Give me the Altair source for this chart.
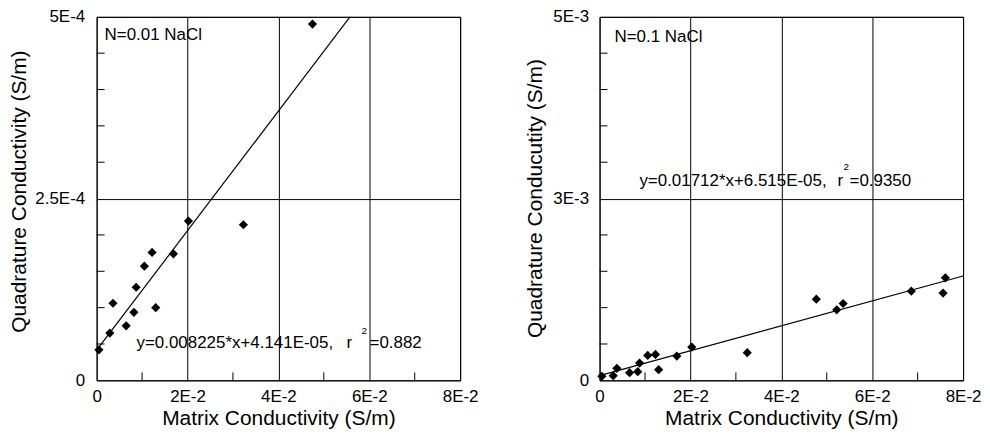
import altair as alt
import pandas as pd

FONT = "Liberation Sans"

# ---------------- data ----------------
# Panel A : N=0.01 NaCl
a_x = [0.0005, 0.0029, 0.0036, 0.0065, 0.0082, 0.0087, 0.0105, 0.0122, 0.0130,
       0.0169, 0.0202, 0.0323, 0.0475]
a_y = [4.2e-5, 6.5e-5, 1.06e-4, 7.5e-5, 9.35e-5, 1.28e-4, 1.57e-4, 1.76e-4, 1.0e-4,
       1.74e-4, 2.19e-4, 2.14e-4, 4.9e-4]
a_slope, a_icpt = 0.008225, 4.141e-05

# Panel B : N=0.1 NaCl
b_x = [0.0005, 0.0030, 0.0038, 0.0066, 0.0084, 0.0088, 0.0106, 0.0123, 0.0130,
       0.0170, 0.0203, 0.0325, 0.0477, 0.0522, 0.0536, 0.0686, 0.0756, 0.0761]
b_y = [5.5e-5, 6.4e-5, 1.65e-4, 1.06e-4, 1.19e-4, 2.38e-4, 3.43e-4, 3.57e-4, 1.47e-4,
       3.34e-4, 4.57e-4, 3.8e-4, 1.116e-3, 9.7e-4, 1.057e-3, 1.226e-3, 1.2e-3, 1.41e-3]
b_slope, b_icpt = 0.01712, 6.515e-05

# axes
x_ticks = [0, 0.02, 0.04, 0.06, 0.08]
x_labels = ["0", "2E-2", "4E-2", "6E-2", "8E-2"]
x_minor = [0.01, 0.03, 0.05, 0.07]
x_title = "Matrix Conductivity (S/m)"

a_yticks = [0, 2.5e-4, 5e-4]
a_ylabels = ["0", "2.5E-4", "5E-4"]
a_yminor = [0.5e-4, 1e-4, 1.5e-4, 2e-4, 3e-4, 3.5e-4, 4e-4, 4.5e-4]
a_ytitle = "Quadrature Conductivity (S/m)"

b_yticks = [0, 2.5e-3, 5e-3]
b_ylabels = ["0", "3E-3", "5E-3"]
b_yminor = [0.5e-3, 1e-3, 1.5e-3, 2e-3, 3e-3, 3.5e-3, 4e-3, 4.5e-3]
b_ytitle = "Quadrature Conducutity (S/m)"

a_note, b_note = "N=0.01 NaCl", "N=0.1 NaCl"
a_eq, a_r, a_sup, a_val = "y=0.008225*x+4.141E-05,", "r", "2", "=0.882"
b_eq, b_r, b_sup, b_val = "y=0.01712*x+6.515E-05,", "r", "2", "=0.9350"

W, H = 365, 365


def label_expr(vals, labels, tol):
    expr = "''"
    for v, l in reversed(list(zip(vals, labels))):
        expr = f"abs(datum.value - {v}) < {tol} ? '{l}' : ({expr})"
    return expr


def txt(s, x, y, size=17):
    return alt.Chart(pd.DataFrame({"t": [s]})).mark_text(
        align="left", baseline="alphabetic", font=FONT, fontSize=size, color="black"
    ).encode(text="t:N", x=alt.value(x), y=alt.value(y))


def panel(xs, ys, slope, icpt, ymax, yticks, ylabels, yminor, ytitle, ylp, ytp, ty,
          note, note_pos, eq, eq_pos, r, r_x, sup, sup_pos, val, val_x):
    xscale = alt.Scale(domain=[0, 0.08], nice=False, zero=False)
    yscale = alt.Scale(domain=[0, ymax], nice=False, zero=False)
    xaxis = alt.Axis(values=x_ticks, labelExpr=label_expr(x_ticks, x_labels, 1e-6),
                     grid=True, gridColor="black", gridOpacity=1, gridWidth=1,
                     ticks=False, domain=False, labelFlush=False, labelOverlap=False,
                     labelPadding=8, titlePadding=3, title=x_title)
    yaxis = alt.Axis(values=yticks, labelExpr=label_expr(yticks, ylabels, ymax * 1e-4),
                     grid=True, gridColor="black", gridOpacity=1, gridWidth=1,
                     ticks=False, domain=False, labelFlush=False, labelOverlap=False,
                     labelPadding=ylp, titlePadding=ytp, titleY=ty, title=ytitle)
    X = lambda f: alt.X(f, scale=xscale, axis=xaxis, title=x_title)
    Y = lambda f: alt.Y(f, scale=yscale, axis=yaxis, title=ytitle)

    pts = alt.Chart(pd.DataFrame({"x": xs, "y": ys})).mark_point(
        shape="diamond", filled=True, color="black", size=85, opacity=1
    ).encode(x=X("x:Q"), y=Y("y:Q"))

    lx = [0.0, 0.08]
    line = alt.Chart(pd.DataFrame({"x": lx, "y": [slope * v + icpt for v in lx]})).mark_line(
        color="black", strokeWidth=1.2, clip=True
    ).encode(x=X("x:Q"), y=Y("y:Q"))

    xt = alt.Chart(pd.DataFrame({"v": x_minor})).mark_rule(color="black", strokeWidth=1).encode(
        x=X("v:Q"), y=alt.value(H), y2=alt.value(H - 8))
    yt = alt.Chart(pd.DataFrame({"v": yminor})).mark_rule(color="black", strokeWidth=1).encode(
        y=Y("v:Q"), x=alt.value(0), x2=alt.value(8))

    layers = [pts, line, xt, yt,
              txt(note, *note_pos),
              txt(eq, *eq_pos),
              txt(r, r_x, eq_pos[1]),
              txt(sup, *sup_pos, size=10),
              txt(val, val_x, eq_pos[1])]
    return alt.layer(*layers).properties(width=W, height=H)


left = panel(a_x, a_y, a_slope, a_icpt, 5e-4, a_yticks, a_ylabels, a_yminor, a_ytitle, 12, 5, 175,
             a_note, (8, 23), a_eq, (40, 333), a_r, 251, a_sup, (266, 318), a_val, 274)
right = panel(b_x, b_y, b_slope, b_icpt, 5e-3, b_yticks, b_ylabels, b_yminor, b_ytitle, 11, 7, 182,
              b_note, (15, 25), b_eq, (40, 170), b_r, 239, b_sup, (245, 154), b_val, 251)

chart = alt.hconcat(left, right, spacing=140, bounds="flush").configure(
    padding={"left": 0, "top": -2, "right": 0, "bottom": 0},
    background="white",
).configure_view(stroke="black", strokeWidth=1).configure_axis(
    labelFont=FONT, labelFontSize=17, labelColor="black",
    titleFont=FONT, titleFontSize=21, titleFontWeight="normal", titleColor="black",
)

chart.save("out.html", embed_options={"renderer": "svg", "actions": False})
